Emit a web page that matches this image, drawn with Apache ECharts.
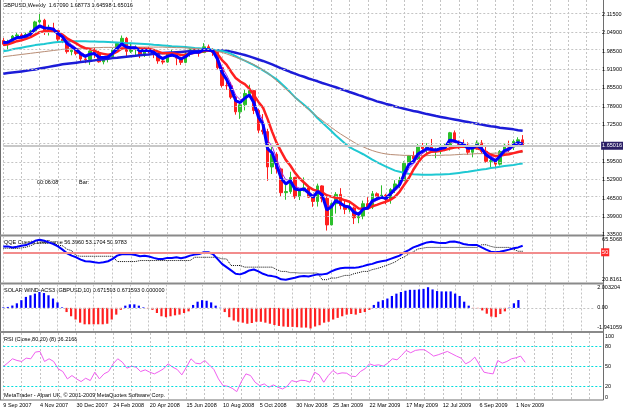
<!DOCTYPE html>
<html>
<head>
<meta charset="utf-8">
<script src="https://cdn.jsdelivr.net/npm/echarts@6/dist/echarts.min.js"></script>
<style>
  html, body { margin: 0; padding: 0; background: #fff; }
  #chart { width: 625px; height: 409px; }
</style>
</head>
<body>
<div id="chart"></div>
<script>
// weekly GBPUSD bars, 9 Sep 2007 .. 15 Nov 2009
var tickLabels = ['9 Sep 2007', '4 Nov 2007', '30 Dec 2007', '24 Feb 2008', '20 Apr 2008', '15 Jun 2008', '10 Aug 2008',
  '5 Oct 2008', '30 Nov 2008', '25 Jan 2009', '22 Mar 2009', '17 May 2009', '12 Jul 2009', '6 Sep 2009', '1 Nov 2009']
var slotCount = 132

var opens = [2.0220, 2.0090, 2.0150, 2.0380, 2.0420, 2.0330, 2.0440, 2.0560, 2.0880, 2.0940,
  2.0560, 2.0660, 2.0570, 2.0270, 2.0200, 1.9830, 1.9880, 1.9760, 1.9570, 1.9550,
  1.9850, 1.9800, 1.9470, 1.9600, 1.9650, 1.9880, 2.0120, 2.0300, 1.9840, 1.9940,
  1.9960, 1.9700, 1.9920, 1.9840, 1.9750, 1.9500, 1.9460, 1.9750, 1.9780, 1.9600,
  1.9450, 1.9750, 1.9920, 1.9860, 1.9800, 2.0000, 1.9880, 1.9800, 1.9260, 1.8630,
  1.8620, 1.8220, 1.7700, 1.7950, 1.8350, 1.8450, 1.7750, 1.7050, 1.7000, 1.5750,
  1.6200, 1.5680, 1.4840, 1.4880, 1.5380, 1.4700, 1.4920, 1.5010, 1.4680, 1.4530,
  1.5080, 1.4640, 1.3700, 1.4450, 1.4780, 1.4380, 1.4250, 1.4300, 1.3950, 1.4000,
  1.4450, 1.4330, 1.4800, 1.4700, 1.4750, 1.4600, 1.4950, 1.5150, 1.5280, 1.5880,
  1.6150, 1.6040, 1.6480, 1.6400, 1.6500, 1.6330, 1.6330, 1.6450, 1.6480, 1.6960,
  1.6630, 1.6540, 1.6520, 1.6270, 1.6420, 1.6600, 1.6300, 1.5950, 1.5970, 1.5850,
  1.6300, 1.6520, 1.6450, 1.6650, 1.6709]
var highs = [2.0310, 2.0250, 2.0420, 2.0520, 2.0480, 2.0500, 2.0600, 2.0920, 2.1160, 2.0990,
  2.0780, 2.0850, 2.0600, 2.0420, 2.0240, 1.9930, 1.9990, 1.9810, 1.9720, 1.9870,
  1.9970, 1.9860, 1.9640, 1.9700, 1.9950, 2.0170, 2.0400, 2.0350, 2.0150, 2.0050,
  1.9990, 1.9980, 2.0000, 1.9880, 1.9760, 1.9560, 1.9800, 1.9900, 1.9800, 1.9650,
  1.9820, 1.9950, 1.9980, 1.9950, 2.0130, 2.0080, 1.9950, 1.9820, 1.9300, 1.8850,
  1.8750, 1.8250, 1.8000, 1.8480, 1.8660, 1.8470, 1.7800, 1.7620, 1.7100, 1.6450,
  1.6270, 1.5720, 1.5180, 1.5580, 1.5400, 1.4960, 1.5380, 1.5050, 1.4760, 1.5160,
  1.5100, 1.4700, 1.4500, 1.4860, 1.5000, 1.4550, 1.4520, 1.4350, 1.4160, 1.4560,
  1.4680, 1.4900, 1.4850, 1.5100, 1.4800, 1.5000, 1.5280, 1.5400, 1.5950, 1.6170,
  1.6300, 1.6560, 1.6600, 1.6590, 1.6740, 1.6430, 1.6560, 1.6580, 1.6990, 1.7040,
  1.6690, 1.6720, 1.6620, 1.6450, 1.6690, 1.6700, 1.6460, 1.6060, 1.5990, 1.6350,
  1.6560, 1.6680, 1.6720, 1.6800, 1.6877]
var lows = [2.0030, 1.9900, 2.0110, 2.0300, 2.0280, 2.0270, 2.0360, 2.0530, 2.0820, 2.0420,
  2.0400, 2.0550, 2.0180, 2.0130, 1.9760, 1.9700, 1.9700, 1.9500, 1.9420, 1.9360,
  1.9600, 1.9440, 1.9380, 1.9450, 1.9600, 1.9800, 2.0070, 1.9650, 1.9780, 1.9700,
  1.9600, 1.9640, 1.9760, 1.9600, 1.9400, 1.9380, 1.9440, 1.9650, 1.9350, 1.9360,
  1.9420, 1.9650, 1.9780, 1.9650, 1.9780, 1.9850, 1.9680, 1.9200, 1.8560, 1.8480,
  1.8150, 1.7600, 1.7450, 1.7750, 1.8200, 1.7620, 1.6950, 1.6900, 1.5260, 1.5500,
  1.5520, 1.4720, 1.4590, 1.4800, 1.4620, 1.4580, 1.4880, 1.4650, 1.4340, 1.4350,
  1.4500, 1.3500, 1.3700, 1.4100, 1.4250, 1.4080, 1.4150, 1.3730, 1.3760, 1.3900,
  1.4250, 1.4260, 1.4580, 1.4650, 1.4430, 1.4450, 1.4830, 1.5000, 1.5250, 1.5760,
  1.5880, 1.6000, 1.6220, 1.6250, 1.6300, 1.6060, 1.6200, 1.6310, 1.6330, 1.6600,
  1.6380, 1.6440, 1.6180, 1.6090, 1.6360, 1.6230, 1.5900, 1.5700, 1.5700, 1.5800,
  1.6160, 1.6280, 1.6350, 1.6480, 1.6460]
var closes = [2.0090, 2.0150, 2.0380, 2.0420, 2.0330, 2.0440, 2.0560, 2.0880, 2.0940, 2.0560,
  2.0660, 2.0570, 2.0270, 2.0200, 1.9830, 1.9880, 1.9760, 1.9570, 1.9550, 1.9850,
  1.9800, 1.9470, 1.9600, 1.9650, 1.9880, 2.0120, 2.0300, 1.9840, 1.9940, 1.9960,
  1.9700, 1.9920, 1.9840, 1.9750, 1.9500, 1.9460, 1.9750, 1.9780, 1.9600, 1.9450,
  1.9750, 1.9920, 1.9860, 1.9800, 2.0000, 1.9880, 1.9800, 1.9260, 1.8630, 1.8620,
  1.8220, 1.7700, 1.7950, 1.8350, 1.8450, 1.7750, 1.7050, 1.7000, 1.5750, 1.6200,
  1.5680, 1.4840, 1.4880, 1.5380, 1.4700, 1.4920, 1.5010, 1.4680, 1.4530, 1.5080,
  1.4640, 1.3700, 1.4450, 1.4780, 1.4380, 1.4250, 1.4300, 1.3950, 1.4000, 1.4450,
  1.4330, 1.4800, 1.4700, 1.4750, 1.4600, 1.4950, 1.5150, 1.5280, 1.5880, 1.6150,
  1.6040, 1.6480, 1.6400, 1.6500, 1.6330, 1.6330, 1.6450, 1.6480, 1.6960, 1.6630,
  1.6540, 1.6520, 1.6270, 1.6420, 1.6600, 1.6300, 1.5950, 1.5970, 1.5850, 1.6300,
  1.6520, 1.6450, 1.6650, 1.6710, 1.6502]

// moving averages on the price window
var blueMA = [2.015, 2.016, 2.025, 2.033, 2.034, 2.038, 2.046, 2.064, 2.074, 2.067,
  2.066, 2.062, 2.047, 2.035, 2.012, 2.001, 1.990, 1.975, 1.966, 1.974,
  1.976, 1.963, 1.962, 1.964, 1.977, 1.995, 2.011, 1.999, 1.997, 1.997,
  1.985, 1.988, 1.986, 1.981, 1.967, 1.958, 1.966, 1.971, 1.966, 1.957,
  1.965, 1.977, 1.981, 1.981, 1.990, 1.989, 1.985, 1.957, 1.910, 1.885,
  1.852, 1.810, 1.803, 1.818, 1.830, 1.802, 1.752, 1.726, 1.640, 1.625,
  1.580, 1.535, 1.515, 1.526, 1.497, 1.494, 1.497, 1.483, 1.468, 1.488,
  1.476, 1.423, 1.434, 1.456, 1.447, 1.436, 1.433, 1.414, 1.407, 1.426,
  1.430, 1.455, 1.462, 1.468, 1.464, 1.480, 1.498, 1.513, 1.550, 1.583,
  1.594, 1.621, 1.630, 1.640, 1.637, 1.635, 1.640, 1.644, 1.670, 1.667,
  1.660, 1.656, 1.641, 1.642, 1.651, 1.640, 1.617, 1.607, 1.596, 1.613,
  1.633, 1.639, 1.652, 1.661, 1.656]
var purpleMA = [2.013, 2.014, 2.021, 2.028, 2.031, 2.035, 2.042, 2.057, 2.068, 2.066,
  2.066, 2.063, 2.052, 2.041, 2.021, 2.008, 1.996, 1.982, 1.971, 1.973,
  1.975, 1.966, 1.963, 1.964, 1.973, 1.988, 2.004, 2.000, 1.998, 1.997,
  1.988, 1.988, 1.987, 1.983, 1.972, 1.963, 1.965, 1.969, 1.967, 1.960,
  1.964, 1.973, 1.978, 1.980, 1.987, 1.988, 1.986, 1.966, 1.928, 1.901,
  1.868, 1.829, 1.813, 1.817, 1.825, 1.808, 1.768, 1.740, 1.670, 1.648,
  1.605, 1.558, 1.530, 1.530, 1.507, 1.500, 1.499, 1.488, 1.475, 1.486,
  1.479, 1.438, 1.437, 1.451, 1.447, 1.439, 1.435, 1.420, 1.412, 1.424,
  1.428, 1.448, 1.457, 1.464, 1.463, 1.474, 1.490, 1.505, 1.537, 1.569,
  1.585, 1.610, 1.622, 1.634, 1.635, 1.635, 1.638, 1.642, 1.662, 1.664,
  1.661, 1.657, 1.646, 1.644, 1.649, 1.643, 1.625, 1.614, 1.603, 1.610,
  1.626, 1.633, 1.645, 1.655, 1.654]
var redMA = [2.006, 2.009, 2.014, 2.020, 2.023, 2.028, 2.034, 2.043, 2.052, 2.055,
  2.057, 2.056, 2.050, 2.043, 2.030, 2.021, 2.012, 2.002, 1.995, 1.992,
  1.987, 1.978, 1.975, 1.972, 1.975, 1.983, 1.994, 1.994, 1.995, 1.996,
  1.993, 1.993, 1.992, 1.989, 1.983, 1.977, 1.977, 1.977, 1.975, 1.971,
  1.972, 1.976, 1.979, 1.980, 1.985, 1.986, 1.986, 1.975, 1.953, 1.937,
  1.912, 1.890, 1.877, 1.868, 1.852, 1.830, 1.805, 1.785, 1.745, 1.700,
  1.660, 1.629, 1.600, 1.580, 1.555, 1.535, 1.520, 1.505, 1.495, 1.490,
  1.485, 1.475, 1.470, 1.466, 1.463, 1.457, 1.452, 1.440, 1.428, 1.427,
  1.428, 1.436, 1.441, 1.447, 1.452, 1.459, 1.470, 1.488, 1.512, 1.535,
  1.565, 1.590, 1.610, 1.622, 1.629, 1.630, 1.632, 1.636, 1.640, 1.644,
  1.646, 1.647, 1.645, 1.643, 1.641, 1.636, 1.628, 1.618, 1.614, 1.615,
  1.618, 1.620, 1.624, 1.628, 1.632]
var cyanMA = [1.984, 1.987, 1.991, 1.994, 1.997, 2.000, 2.003, 2.006, 2.008, 2.010,
  2.013, 2.015, 2.017, 2.018, 2.019, 2.020, 2.020, 2.020, 2.020, 2.019,
  2.019, 2.018, 2.018, 2.017, 2.016, 2.015, 2.014, 2.013, 2.013, 2.012,
  2.011, 2.010, 2.009, 2.007, 2.006, 2.005, 2.004, 2.002, 2.001, 2.000,
  1.999, 1.998, 1.996, 1.995, 1.993, 1.992, 1.990, 1.988, 1.985, 1.981,
  1.975, 1.967, 1.958, 1.951, 1.943, 1.935, 1.926, 1.917, 1.907, 1.896,
  1.885, 1.870, 1.855, 1.839, 1.822, 1.808, 1.795, 1.781, 1.765, 1.747,
  1.732, 1.717, 1.702, 1.686, 1.672, 1.658, 1.645, 1.636, 1.628, 1.620,
  1.611, 1.601, 1.592, 1.584, 1.576, 1.569, 1.562, 1.558, 1.554, 1.551,
  1.549, 1.548, 1.547, 1.547, 1.547, 1.548, 1.548, 1.549, 1.550, 1.552,
  1.554, 1.556, 1.558, 1.561, 1.563, 1.566, 1.568, 1.571, 1.573, 1.576,
  1.578, 1.580, 1.582, 1.585, 1.587]
var brownMA = [1.965, 1.967, 1.969, 1.971, 1.973, 1.975, 1.977, 1.979, 1.981, 1.983,
  1.985, 1.987, 1.989, 1.991, 1.992, 1.993, 1.994, 1.995, 1.996, 1.996,
  1.997, 1.997, 1.998, 1.998, 1.998, 1.999, 1.999, 1.999, 1.999, 1.999,
  1.999, 1.999, 1.999, 1.999, 1.999, 1.999, 1.998, 1.998, 1.997, 1.997,
  1.996, 1.995, 1.994, 1.993, 1.991, 1.989, 1.987, 1.984, 1.980, 1.975,
  1.969, 1.963, 1.957, 1.951, 1.945, 1.937, 1.928, 1.918, 1.907, 1.894,
  1.880, 1.866, 1.851, 1.836, 1.821, 1.806, 1.791, 1.778, 1.765, 1.752,
  1.740, 1.727, 1.715, 1.703, 1.692, 1.682, 1.672, 1.662, 1.653, 1.646,
  1.639, 1.633, 1.628, 1.624, 1.621, 1.619, 1.618, 1.617, 1.616, 1.616,
  1.615, 1.615, 1.615, 1.615, 1.616, 1.616, 1.616, 1.617, 1.617, 1.618,
  1.619, 1.620, 1.620, 1.621, 1.622, 1.622, 1.623, 1.623, 1.624, 1.624,
  1.625, 1.625, 1.625, 1.626, 1.626]
var navyMA = [1.905, 1.907, 1.909, 1.911, 1.913, 1.915, 1.918, 1.920, 1.923, 1.926,
  1.929, 1.932, 1.935, 1.938, 1.940, 1.942, 1.944, 1.946, 1.948, 1.950,
  1.952, 1.954, 1.956, 1.958, 1.960, 1.961, 1.963, 1.965, 1.967, 1.968,
  1.970, 1.972, 1.973, 1.975, 1.976, 1.978, 1.979, 1.980, 1.981, 1.982,
  1.983, 1.984, 1.985, 1.986, 1.987, 1.988, 1.988, 1.988, 1.987, 1.986,
  1.983, 1.979, 1.975, 1.971, 1.966, 1.961, 1.955, 1.950, 1.944, 1.938,
  1.931, 1.924, 1.918, 1.911, 1.905, 1.899, 1.894, 1.888, 1.883, 1.878,
  1.872, 1.867, 1.862, 1.857, 1.851, 1.846, 1.840, 1.835, 1.829, 1.824,
  1.818, 1.813, 1.807, 1.803, 1.798, 1.794, 1.789, 1.785, 1.781, 1.777,
  1.773, 1.770, 1.766, 1.762, 1.759, 1.755, 1.752, 1.749, 1.746, 1.743,
  1.740, 1.737, 1.734, 1.731, 1.728, 1.725, 1.722, 1.719, 1.717, 1.714,
  1.712, 1.710, 1.708, 1.705, 1.703]

// QQE window
var qqeLine = [55.8, 55.8, 54.8, 55.5, 56.4, 57.1, 59.0, 61.3, 62.3, 61.3,
  59.7, 58.1, 55.8, 52.6, 49.0, 46.7, 45.1, 42.8, 41.2, 40.9,
  40.2, 39.6, 40.2, 41.2, 43.5, 46.7, 48.0, 48.0, 48.0, 47.4,
  46.1, 46.7, 45.8, 44.5, 43.5, 43.5, 44.5, 44.5, 45.1, 44.1,
  45.1, 46.7, 47.7, 48.3, 50.0, 50.0, 48.3, 43.5, 38.6, 35.4,
  32.2, 28.9, 28.3, 29.9, 32.2, 33.1, 31.2, 28.9, 27.3, 26.6,
  25.7, 23.4, 23.1, 24.1, 25.0, 26.3, 26.6, 26.3, 27.3, 28.3,
  28.3, 28.9, 31.2, 33.1, 34.4, 34.7, 34.7, 34.7, 35.4, 36.4,
  37.7, 38.6, 40.2, 41.2, 41.9, 43.5, 45.1, 46.7, 50.0, 52.2,
  54.8, 56.4, 58.1, 59.7, 60.3, 59.7, 59.0, 59.0, 60.3, 60.6,
  59.7, 58.1, 57.4, 57.1, 57.1, 54.8, 52.6, 50.6, 50.0, 50.6,
  51.6, 52.6, 53.9, 54.8, 56.4]
var qqeTrail = [54.0, 54.0, 53.8, 53.8, 54.3, 55.0, 56.5, 58.5, 59.5, 59.5,
  59.0, 59.0, 57.0, 56.4, 53.0, 51.6, 46.7, 46.1, 46.1, 46.1,
  46.1, 46.1, 46.1, 46.1, 46.1, 40.9, 40.9, 40.9, 40.9, 40.9,
  41.9, 41.9, 41.9, 41.9, 41.9, 41.9, 41.9, 41.9, 41.9, 41.9,
  41.9, 41.9, 45.1, 45.1, 45.1, 45.1, 45.1, 45.1, 43.5, 43.5,
  37.0, 37.0, 37.0, 35.4, 35.4, 35.4, 35.4, 35.4, 35.4, 35.4,
  33.0, 31.2, 31.2, 30.0, 30.0, 29.6, 29.6, 29.6, 29.6, 29.6,
  23.1, 23.1, 24.7, 24.7, 26.0, 27.3, 27.3, 29.0, 30.0, 31.2,
  31.2, 33.0, 34.0, 35.4, 37.0, 38.6, 40.5, 43.5, 45.5, 48.3,
  50.5, 53.2, 54.0, 54.8, 54.8, 54.8, 54.8, 54.8, 54.8, 54.8,
  54.8, 54.8, 54.8, 54.8, 54.8, 57.4, 57.4, 55.8, 54.8, 54.8,
  54.8, 54.8, 53.0, 51.0, 51.0]

// SOLAR WIND histogram
var solarWind = [0.05, 0.08, 0.20, 0.39, 0.66, 0.94, 1.08, 1.22, 1.36, 1.27,
  1.08, 0.80, 0.47, 0.05, -0.36, -0.72, -1.00, -1.27, -1.41, -1.41,
  -1.41, -1.41, -1.41, -1.36, -1.00, -0.58, -0.17, 0.19, 0.30, 0.30,
  0.19, 0.05, -0.05, -0.17, -0.44, -0.72, -0.80, -0.72, -0.64, -0.58,
  -0.44, -0.30, 0.25, 0.53, 0.66, 0.61, 0.47, 0.19, 0.02, -0.36,
  -0.80, -1.08, -1.19, -1.27, -1.36, -1.30, -1.19, -1.19, -1.27, -1.36,
  -1.47, -1.55, -1.60, -1.63, -1.63, -1.66, -1.69, -1.69, -1.77, -1.60,
  -1.49, -1.27, -1.19, -1.00, -0.86, -0.72, -0.58, -0.53, -0.58, -0.44,
  -0.36, -0.17, 0.25, 0.53, 0.66, 0.80, 1.02, 1.22, 1.36, 1.47,
  1.55, 1.55, 1.58, 1.63, 1.77, 1.58, 1.44, 1.41, 1.41, 1.41,
  1.22, 1.02, 0.53, 0.19, -0.03, -0.03, -0.22, -0.50, -0.75, -0.80,
  -0.53, -0.30, 0.03, 0.39, 0.67]

// RSI(8)
var rsi = [50, 55.5, 61.5, 59, 57.5, 62.5, 61.5, 71.5, 72.5, 57.5,
  61.5, 57.5, 46.5, 42.5, 31.5, 36.5, 31.5, 27.5, 32.5, 29,
  41.5, 31.5, 39, 42.5, 54, 61.5, 56.5, 47.5, 50.5, 49,
  42.5, 45, 41.5, 39, 42.5, 46.5, 54, 49, 45.5, 37.5,
  49, 61.5, 55, 54, 59, 52.5, 45.5, 31.5, 21.5, 20.5,
  17.5, 12.5, 27.5, 39, 36.5, 26.5, 21.5, 24, 19, 22.5,
  19, 16.5, 20.5, 29, 27, 29.5, 29, 26.5, 41.5, 37.5,
  26.5, 36.5, 44, 39, 40.5, 40, 35.5, 35, 42.5, 46.5,
  54, 51.5, 52.5, 50.5, 55, 61.5, 60, 66.5, 74, 70.5,
  74, 75, 75, 70.5, 65.5, 67.5, 70, 72.5, 69, 65.5,
  62.5, 54, 57.5, 64, 52.5, 41.5, 40, 39, 59, 55,
  57.5, 61.5, 63, 65.5, 56.2]

var priceTicks = [2.115, 2.049, 1.985, 1.919, 1.855, 1.789, 1.725, 1.659, 1.595, 1.529, 1.465, 1.399, 1.335]
var lastPrice = 1.65016

var FONT = 'Liberation Sans'
var GRID_DASH = { color: '#c4c4c4', type: [2, 2], width: 1 }

var categories = []
for (var i = 0; i < slotCount; i++) categories.push(String(i))

var candles = opens.map(function (o, i) { return [o, closes[i], lows[i], highs[i]] })

function xAxisFor (gridIndex, showLabels) {
  return {
    type: 'category',
    gridIndex: gridIndex,
    data: categories,
    boundaryGap: false,
    axisLine: { show: false },
    axisTick: { show: false },
    axisLabel: showLabels ? {
      show: true,
      interval: function (idx) { return idx % 8 === 0 && idx / 8 < tickLabels.length },
      formatter: function (v, idx) { return tickLabels[idx / 8] || '' },
      align: 'left',
      margin: 2,
      fontSize: 5.5,
      fontFamily: FONT,
      color: '#000'
    } : { show: false },
    splitLine: { show: true, interval: function (idx) { return idx % 4 === 0 }, lineStyle: GRID_DASH }
  }
}

function yAxisFor (gridIndex, min, max, values, fmt, extra) {
  var label = {
    customValues: values,
    formatter: fmt,
    fontSize: 5.5,
    fontFamily: FONT,
    color: '#000',
    margin: 2,
    align: 'left'
  }
  Object.assign(label, extra || {})
  return {
    type: 'value',
    gridIndex: gridIndex,
    position: 'right',
    min: min,
    max: max,
    axisLine: { show: false },
    axisTick: { show: false },
    splitLine: { show: false },
    axisLabel: label
  }
}

function line (name, data, color, width, yIdx, type) {
  return {
    name: name,
    type: 'line',
    xAxisIndex: yIdx,
    yAxisIndex: yIdx,
    data: data,
    symbol: 'none',
    lineStyle: { color: color, width: width, type: type || 'solid' },
    z: 3
  }
}

function text (x, y, str) {
  return {
    type: 'text',
    x: x,
    y: y,
    silent: true,
    style: { text: str, fill: '#000', font: '5.5px "' + FONT + '"', verticalAlign: 'middle', textVerticalAlign: 'middle' }
  }
}

function hline (y, color, w) {
  return { type: 'line', silent: true, shape: { x1: 0, y1: y, x2: 603.5, y2: y }, style: { stroke: color, lineWidth: w } }
}

var chart = echarts.init(document.getElementById('chart'), null, { renderer: 'canvas' })

chart.setOption({
  animation: false,
  backgroundColor: '#fff',
  textStyle: { fontFamily: FONT },
  grid: [
    { left: 3.3, right: 22, top: 0, height: 235 },
    { left: 3.3, right: 22, top: 236.5, height: 45.5 },
    { left: 3.3, right: 22, top: 284.5, height: 46 },
    { left: 3.3, right: 22, top: 333, height: 67 }
  ],
  xAxis: [xAxisFor(0, false), xAxisFor(1, false), xAxisFor(2, false), xAxisFor(3, true)],
  yAxis: [
    yAxisFor(0, 1.3343, 2.1656, priceTicks.filter(function (v) { return v !== 1.659 }),
      function (v) { return v.toFixed(5) }, { padding: [0, 0, 3, 0] }),
    yAxisFor(1, 20.8161, 65.5068, [20.8161, 65.5068],
      function (v) { return v.toFixed(4) }, { verticalAlignMinLabel: 'bottom', verticalAlignMaxLabel: 'top' }),
    yAxisFor(2, -1.941059, 2.003204, [-1.941059, 0, 2.003204],
      function (v) { return v === 0 ? '0.00' : v.toFixed(6) }, { verticalAlignMinLabel: 'bottom', verticalAlignMaxLabel: 'top' }),
    yAxisFor(3, 0, 100, [0, 20, 50, 80, 100],
      function (v) { return String(v) }, { verticalAlignMinLabel: 'bottom', verticalAlignMaxLabel: 'top' })
  ],
  series: [
    {
      name: 'GBPUSD',
      type: 'candlestick',
      xAxisIndex: 0,
      yAxisIndex: 0,
      data: candles,
      barWidth: 3,
      clip: false,
      itemStyle: {
        color: '#2cbf2c',
        color0: '#ff1f1f',
        borderColor: '#2cbf2c',
        borderColor0: '#ff1f1f',
        borderWidth: 1
      },
      markLine: {
        silent: true,
        symbol: ['none', 'none'],
        data: priceTicks.map(function (v) {
          return { yAxis: v, lineStyle: GRID_DASH, label: { show: false } }
        }).concat([{
          yAxis: lastPrice,
          lineStyle: { color: '#c8c8c8', type: 'solid', width: 2 },
          label: {
            show: true,
            position: 'end',
            distance: 1,
            formatter: lastPrice.toFixed(5),
            backgroundColor: '#2b1f66',
            color: '#fff',
            fontSize: 5.5,
            fontFamily: FONT,
            padding: [1, 1]
          }
        }])
      },
      z: 2
    },
    line('MA slow', navyMA, '#1c1cd8', 2.5, 0),
    line('MA cyan', cyanMA, '#1ec8d2', 2, 0),
    line('MA brown', brownMA, '#b88c74', 1, 0),
    line('MA red', redMA, '#ff2020', 2.5, 0),
    line('MA purple', purpleMA, '#a020e0', 1, 0),
    line('MA blue', blueMA, '#0000ff', 3, 0),
    {
      name: 'QQE level',
      type: 'line',
      xAxisIndex: 1,
      yAxisIndex: 1,
      data: [],
      markLine: {
        silent: true,
        symbol: ['none', 'none'],
        data: [{ yAxis: 50 }],
        lineStyle: { color: '#f28c8c', type: 'solid', width: 2 },
        label: {
          show: true,
          position: 'end',
          distance: 1,
          formatter: '50',
          backgroundColor: '#ff2a2a',
          color: '#fff',
          fontSize: 5.5,
          fontFamily: FONT,
          padding: [1, 1]
        }
      }
    },
    line('QQE trail', qqeTrail, '#000', 1, 1, 'dotted'),
    line('QQE', qqeLine, '#0000ff', 2, 1),
    {
      name: 'SOLAR WIND',
      type: 'bar',
      xAxisIndex: 2,
      yAxisIndex: 2,
      data: solarWind,
      barWidth: 2.2,
      itemStyle: {
        color: function (p) { return p.value >= 0 ? '#0000ff' : '#ff1f1f' }
      },
      markLine: {
        silent: true,
        symbol: ['none', 'none'],
        data: [{ yAxis: 0 }],
        lineStyle: GRID_DASH,
        label: { show: false }
      }
    },
    {
      name: 'RSI',
      type: 'line',
      xAxisIndex: 3,
      yAxisIndex: 3,
      data: rsi,
      symbol: 'none',
      lineStyle: { color: '#f060f0', width: 1 },
      markLine: {
        silent: true,
        symbol: ['none', 'none'],
        data: [{ yAxis: 80 }, { yAxis: 50 }, { yAxis: 20 }],
        lineStyle: { color: '#00dede', type: [2, 2], width: 1 },
        label: { show: false }
      }
    }
  ],
  graphic: [
    { type: 'line', silent: true, shape: { x1: 603.5, y1: 0, x2: 603.5, y2: 400 }, style: { stroke: '#6e6e6e', lineWidth: 1 } },
    { type: 'line', silent: true, shape: { x1: 0.5, y1: 0, x2: 0.5, y2: 400 }, style: { stroke: '#6e6e6e', lineWidth: 1 } },
    hline(235.5, '#8a8a8a', 2),
    hline(283.5, '#8a8a8a', 2),
    hline(332, '#8a8a8a', 2),
    hline(400, '#6e6e6e', 1),
    text(3, 5.5, 'GBPUSD,Weekly  1.67090 1.68773 1.64598 1.65016'),
    text(37, 182, '00:06:08'),
    text(79, 182, 'Bar:'),
    text(4, 242, 'QQE Cuesta LowFrame 56.3960 53.1704 50.9783'),
    text(4, 290, 'SOLAR WIND-ACS3 (GBPUSD,10) 0.671593 0.671593 0.000000'),
    text(4, 339, 'RSI (Close,80,20) (8) 56.2168'),
    text(4, 395, 'MetaTrader - Alpari UK, \u00a9 2001-2009 MetaQuotes Software Corp.')
  ]
})
</script>
</body>
</html>
